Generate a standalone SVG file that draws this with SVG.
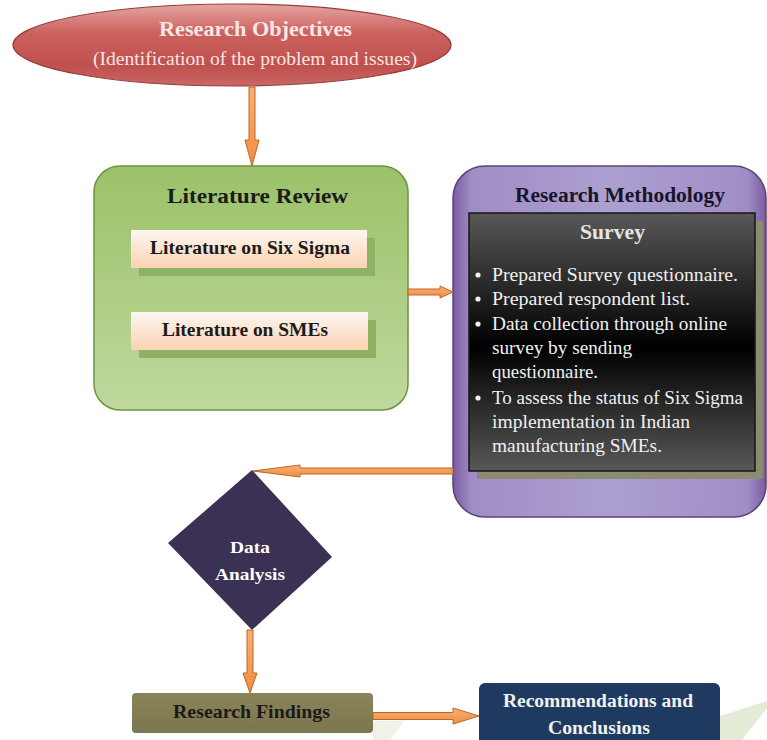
<svg xmlns="http://www.w3.org/2000/svg" width="767" height="740" viewBox="0 0 767 740">
  <defs>
    <style>
      .serif { font-family: "Liberation Serif", "Times New Roman", serif; }
      .title { font-weight: bold; }
      .arrow { fill: url(#orangeGrad); stroke: #c4651f; stroke-width: 1; stroke-linejoin: round; }
      .bullet-text { font-size: 19px; fill: #f0f0f0; }
      .bullet { fill: #f0f0f0; }
    </style>
    <linearGradient id="redGrad" x1="0" y1="0" x2="0" y2="1">
      <stop offset="0" stop-color="#e6a4a2"/>
      <stop offset="0.35" stop-color="#cb625f"/>
      <stop offset="0.75" stop-color="#c0504d"/>
      <stop offset="1" stop-color="#c96764"/>
    </linearGradient>
    <linearGradient id="greenGrad" x1="0" y1="0" x2="0" y2="1">
      <stop offset="0" stop-color="#9ac269"/>
      <stop offset="0.6" stop-color="#b0cf88"/>
      <stop offset="1" stop-color="#c0d99f"/>
    </linearGradient>
    <linearGradient id="peachGrad" x1="0" y1="0" x2="0" y2="1">
      <stop offset="0" stop-color="#fef6f0"/>
      <stop offset="1" stop-color="#fbd3b3"/>
    </linearGradient>
    <linearGradient id="purpleGrad" x1="0" y1="0" x2="1" y2="0">
      <stop offset="0" stop-color="#7a5ca1"/>
      <stop offset="0.06" stop-color="#a08dc6"/>
      <stop offset="0.5" stop-color="#ad9fd0"/>
      <stop offset="0.94" stop-color="#a08dc6"/>
      <stop offset="1" stop-color="#7a5ca1"/>
    </linearGradient>
    <linearGradient id="darkGrad" x1="0" y1="0" x2="0" y2="1">
      <stop offset="0" stop-color="#585858"/>
      <stop offset="0.52" stop-color="#000000"/>
      <stop offset="1" stop-color="#585858"/>
    </linearGradient>
    <linearGradient id="oliveGrad" x1="0" y1="0" x2="0" y2="1">
      <stop offset="0" stop-color="#8a8459"/>
      <stop offset="1" stop-color="#7b764f"/>
    </linearGradient>
    <linearGradient id="orangeGrad" x1="0" y1="0" x2="0" y2="1">
      <stop offset="0" stop-color="#f7b078"/>
      <stop offset="1" stop-color="#ef8d43"/>
    </linearGradient>
  </defs>

  <rect width="767" height="740" fill="#ffffff"/>

  <!-- faint ground shadows -->
  <polygon points="720,716 767,701 767,708 742,740 720,740" fill="#e4ebd6"/>
  <polygon points="373,721 404,721 390,740 373,740" fill="#eef3e6"/>

  <g id="research-objectives">
    <ellipse cx="232" cy="45" rx="219" ry="41" fill="url(#redGrad)" stroke="#93403d" stroke-width="1.2"/>
    <text class="serif title" x="159" y="36" font-size="20" fill="#f7e6e5" textLength="193" lengthAdjust="spacingAndGlyphs">Research Objectives</text>
    <text class="serif" x="93" y="65" font-size="19" fill="#f7e6e5" textLength="324" lengthAdjust="spacingAndGlyphs">(Identification of the problem and issues)</text>
  </g>

  <g id="literature-review">
    <rect x="94" y="166" width="314" height="244" rx="26" fill="url(#greenGrad)" stroke="#6f9440" stroke-width="1.5"/>
    <text class="serif title" x="167" y="203" font-size="20" fill="#1b1b1b" textLength="181" lengthAdjust="spacingAndGlyphs">Literature Review</text>
    <g id="lit-six-sigma">
      <rect x="139" y="238" width="236" height="38" fill="#8fb163"/>
      <rect x="131" y="230" width="236" height="38" fill="url(#peachGrad)"/>
      <text class="serif title" x="150" y="254" font-size="18" fill="#1b1b1b" textLength="200" lengthAdjust="spacingAndGlyphs">Literature on Six Sigma</text>
    </g>
    <g id="lit-smes">
      <rect x="139" y="320" width="237" height="38" fill="#8fb163"/>
      <rect x="131" y="312" width="237" height="38" fill="url(#peachGrad)"/>
      <text class="serif title" x="162" y="336" font-size="18" fill="#1b1b1b" textLength="166" lengthAdjust="spacingAndGlyphs">Literature on SMEs</text>
    </g>
  </g>

  <g id="research-methodology">
    <rect x="453" y="166" width="313" height="351" rx="32" fill="url(#purpleGrad)" stroke="#584479" stroke-width="1.5"/>
    <text class="serif title" x="515" y="202" font-size="20" fill="#17152a" textLength="210" lengthAdjust="spacingAndGlyphs">Research Methodology</text>
    <g id="survey">
      <rect x="477" y="221" width="286" height="258" fill="#8b8b74"/>
      <rect x="469" y="213" width="286" height="258" fill="url(#darkGrad)" stroke="#161616" stroke-width="1.5"/>
      <text class="serif title" x="580" y="239" font-size="21" fill="#e4e4e4" textLength="65" lengthAdjust="spacingAndGlyphs">Survey</text>
      <circle class="bullet" cx="478" cy="275" r="2.6"/>
      <circle class="bullet" cx="478" cy="299" r="2.6"/>
      <circle class="bullet" cx="478" cy="324" r="2.6"/>
      <circle class="bullet" cx="478" cy="398" r="2.6"/>
      <text class="serif bullet-text" x="492" y="281" textLength="246" lengthAdjust="spacingAndGlyphs">Prepared Survey questionnaire.</text>
      <text class="serif bullet-text" x="492" y="305" textLength="198" lengthAdjust="spacingAndGlyphs">Prepared respondent list.</text>
      <text class="serif bullet-text" x="492" y="330" textLength="235" lengthAdjust="spacingAndGlyphs">Data collection through online</text>
      <text class="serif bullet-text" x="492" y="354" textLength="140" lengthAdjust="spacingAndGlyphs">survey by sending</text>
      <text class="serif bullet-text" x="492" y="378" textLength="106" lengthAdjust="spacingAndGlyphs">questionnaire.</text>
      <text class="serif bullet-text" x="492" y="404" textLength="251" lengthAdjust="spacingAndGlyphs">To assess the status of Six Sigma</text>
      <text class="serif bullet-text" x="492" y="428" textLength="198" lengthAdjust="spacingAndGlyphs">implementation in Indian</text>
      <text class="serif bullet-text" x="492" y="452" textLength="170" lengthAdjust="spacingAndGlyphs">manufacturing SMEs.</text>
    </g>
  </g>

  <g id="data-analysis">
    <polygon points="252,470 332,557 252,630 168,543" fill="#3b3154"/>
    <text class="serif title" x="230" y="553" font-size="17" fill="#ffffff" textLength="40" lengthAdjust="spacingAndGlyphs">Data</text>
    <text class="serif title" x="215" y="580" font-size="17" fill="#ffffff" textLength="70" lengthAdjust="spacingAndGlyphs">Analysis</text>
  </g>

  <g id="research-findings">
    <rect x="132" y="693" width="241" height="40" rx="4" fill="url(#oliveGrad)"/>
    <text class="serif title" x="173" y="718" font-size="18" fill="#1a1a1a" textLength="157" lengthAdjust="spacingAndGlyphs">Research Findings</text>
  </g>

  <g id="recommendations">
    <rect x="479" y="683" width="241" height="64" rx="6" fill="#1f3a60"/>
    <text class="serif title" x="503" y="707" font-size="18" fill="#f2f2f2" textLength="190" lengthAdjust="spacingAndGlyphs">Recommendations and</text>
    <text class="serif title" x="548" y="734" font-size="18" fill="#f2f2f2" textLength="102" lengthAdjust="spacingAndGlyphs">Conclusions</text>
  </g>

  <g id="connectors">
    <polygon class="arrow" points="249,87 255,87 255,140 259,140 252,166 245,140 249,140"/>
    <polygon class="arrow" points="408,289 440,289 440,286 453,292 440,298 440,295 408,295"/>
    <polygon class="arrow" points="453,468 300,468 300,465 253,471 300,477 300,474 453,474"/>
    <polygon class="arrow" points="247,630 253,630 253,673 257,673 250,693 243,673 247,673"/>
    <polygon class="arrow" points="373,712.5 453,712.5 453,708 479,716 453,724 453,719.5 373,719.5"/>
  </g>
</svg>
